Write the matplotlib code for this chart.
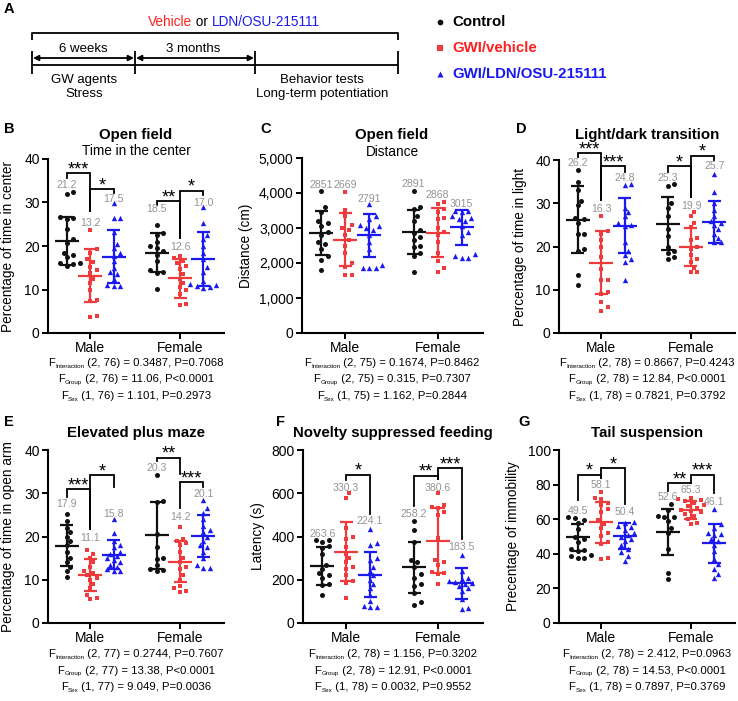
import numpy as np
import matplotlib
matplotlib.use('Agg')
import matplotlib.pyplot as plt
from matplotlib.transforms import offset_copy

plt.rcParams['font.family'] = ['Liberation Sans', 'DejaVu Sans']

# ------------------------------------------------------------------ data
sexes = ['Male', 'Female']
groups = ['Control', 'GWI/vehicle', 'GWI/LDN/OSU-215111']

# B: open field, % time in center  [Control, GWI/vehicle, GWI/LDN]
center_male = [
    [32.5, 32.0, 26.7, 26.5, 26.3, 23.8, 21.5, 20.8, 18.5, 18.0, 17.5, 16.0, 15.8, 15.5, 16.2],
    [23.7, 19.3, 18.5, 17.0, 16.3, 15.2, 14.5, 13.7, 12.5, 11.5, 9.8, 7.5, 7.3, 4.0, 3.7],
    [29.8, 26.5, 26.5, 23.2, 20.5, 19.5, 18.5, 17.8, 16.5, 15.0, 14.0, 13.5, 12.5, 11.0, 10.8, 10.8],
]
center_female = [
    [24.8, 23.0, 22.5, 21.0, 20.0, 19.5, 18.8, 18.0, 16.5, 14.5, 14.0, 13.8, 10.2],
    [17.8, 17.2, 16.5, 16.0, 15.5, 14.8, 13.5, 12.5, 11.5, 10.5, 9.8, 9.0, 6.7, 6.5],
    [29.0, 25.2, 22.5, 21.5, 20.0, 18.5, 17.0, 15.2, 14.0, 12.0, 11.2, 11.0, 10.8, 10.5, 10.3],
]
center_mean = [[21.2, 13.2, 17.5], [18.5, 12.6, 17.0]]
center_sd = [[5.5, 6.1, 6.1], [4.5, 4.5, 6.2]]

# C: open field, distance (cm)
distance_male = [
    [4050, 3600, 3450, 3200, 3150, 3050, 2900, 2800, 2600, 2550, 2400, 2200, 2100, 1800],
    [4020, 3520, 3350, 3100, 3000, 2950, 2800, 2650, 2500, 2300, 2000, 1900, 1650, 1650],
    [3680, 3350, 3250, 3100, 3050, 3000, 2950, 2800, 2600, 2400, 1950, 1850, 1850, 1850],
]
distance_female = [
    [4060, 3600, 3550, 3350, 3200, 2950, 2850, 2750, 2650, 2500, 2450, 2300, 2200, 1750],
    [3750, 3700, 3550, 3450, 3300, 3250, 3000, 2900, 2800, 2600, 2300, 2050, 1850, 1750],
    [3500, 3500, 3450, 3350, 3300, 3250, 3200, 3050, 2900, 2800, 2250, 2200, 2150, 2150],
]
distance_mean = [[2851, 2669, 2791], [2891, 2868, 3015]]
distance_sd = [[630, 760, 620], [620, 690, 510]]

# D: light/dark transition, % time in light
light_male = [
    [37.8, 34.8, 33.0, 30.5, 29.5, 26.5, 26.3, 25.5, 23.0, 23.0, 19.5, 19.0, 13.3, 11.2],
    [27.0, 23.5, 23.0, 21.5, 20.0, 17.5, 14.8, 12.3, 12.2, 9.5, 9.0, 7.2, 6.0, 5.2],
    [34.5, 34.3, 29.0, 28.0, 27.0, 25.5, 25.0, 24.8, 21.0, 19.0, 18.0, 17.0, 16.5, 12.2],
]
light_female = [
    [34.5, 34.0, 30.0, 29.0, 27.0, 24.0, 22.5, 20.0, 19.0, 18.5, 17.5, 17.2],
    [28.0, 27.0, 25.5, 24.5, 22.0, 21.5, 20.0, 19.5, 18.0, 17.0, 16.5, 15.0, 14.0, 14.0],
    [36.8, 32.5, 30.0, 28.5, 27.0, 26.0, 25.5, 25.0, 24.0, 23.0, 22.0, 21.0, 21.0],
]
light_mean = [[26.2, 16.3, 24.8], [25.3, 19.9, 25.7]]
light_sd = [[7.7, 7.2, 6.3], [6.2, 4.4, 4.8]]

# E: elevated plus maze, % time in open arm
openarm_male = [
    [25.3, 23.5, 22.0, 21.0, 20.0, 19.0, 18.0, 16.5, 15.0, 14.0, 13.0, 12.0, 10.7],
    [16.8, 16.0, 15.0, 14.0, 13.0, 12.0, 11.5, 11.0, 10.5, 10.0, 9.0, 8.0, 6.5, 5.8, 5.5],
    [24.0, 20.8, 19.0, 18.0, 17.5, 16.5, 16.0, 15.5, 15.0, 14.5, 14.0, 13.5, 13.0, 12.5, 12.0, 12.0],
]
openarm_female = [
    [34.2, 28.2, 28.0, 20.5, 17.5, 15.0, 14.8, 13.5, 12.5, 12.3, 12.0],
    [22.3, 19.5, 19.0, 18.5, 18.0, 16.5, 15.0, 14.0, 13.0, 12.5, 11.0, 10.0, 8.5, 8.0, 7.3, 7.2],
    [28.5, 26.5, 25.5, 24.0, 22.5, 21.5, 21.0, 20.0, 19.0, 18.0, 17.5, 16.5, 15.0, 13.5, 12.8, 12.8],
]
openarm_mean = [[17.9, 11.1, 15.8], [20.3, 14.2, 20.1]]
openarm_sd = [[4.8, 3.6, 3.3], [7.7, 4.8, 4.9]]

# F: novelty suppressed feeding, latency (s)
latency_male = [
    [385, 385, 375, 355, 345, 320, 270, 250, 230, 220, 210, 180, 175, 130],
    [600, 580, 440, 400, 390, 350, 320, 300, 280, 260, 250, 220, 195, 185, 115],
    [435, 370, 360, 300, 290, 260, 240, 220, 200, 180, 160, 130, 100, 80, 75, 75],
]
latency_female = [
    [470, 430, 375, 290, 280, 260, 225, 210, 180, 170, 140, 95, 85],
    [600, 545, 535, 530, 515, 500, 395, 290, 280, 270, 235, 230, 225, 180],
    [315, 240, 210, 205, 195, 190, 185, 180, 170, 160, 150, 110, 70, 65],
]
latency_mean = [[263.6, 330.3, 224.1], [258.2, 380.6, 183.5]]
latency_sd = [[88, 135, 106], [118, 150, 71]]

# G: tail suspension, % immobility
immobility_male = [
    [61.5, 60.5, 59.5, 58.0, 54.5, 50.0, 48.5, 47.0, 43.0, 42.0, 41.5, 39.5, 38.5, 37.5, 37.5],
    [76.0, 72.0, 71.5, 69.5, 68.0, 66.0, 64.0, 59.5, 57.5, 55.0, 52.0, 50.5, 47.0, 45.5, 37.5, 37.0],
    [58.5, 58.0, 56.0, 55.5, 54.0, 52.0, 51.0, 50.0, 48.5, 47.5, 45.0, 43.0, 41.0, 39.0, 36.0],
]
immobility_female = [
    [68.5, 65.5, 62.0, 61.5, 61.0, 59.0, 55.0, 52.0, 42.5, 29.0, 25.5],
    [72.0, 71.5, 71.0, 70.5, 69.5, 68.0, 67.5, 66.5, 65.5, 65.0, 64.0, 63.0, 62.0, 60.0, 58.0, 57.0],
    [66.0, 57.0, 55.0, 52.0, 51.5, 51.0, 48.5, 47.5, 45.0, 41.5, 37.0, 34.0, 31.5, 28.5, 26.0],
]
immobility_mean = [[49.5, 58.1, 50.4], [52.6, 65.3, 46.1]]
immobility_sd = [[8.0, 12.0, 7.4], [13.5, 5.2, 11.4]]

# two-way ANOVA texts  (subscript, rest)
stats_B = [('Interaction', '(2, 76) = 0.3487, P=0.7068'), ('Group', '(2, 76) = 11.06, P<0.0001'), ('Sex', '(1, 76) = 1.101, P=0.2973')]
stats_C = [('Interaction', '(2, 75) = 0.1674, P=0.8462'), ('Group', '(2, 75) = 0.315, P=0.7307'), ('Sex', '(1, 75) = 1.162, P=0.2844')]
stats_D = [('Interaction', '(2, 78) = 0.8667, P=0.4243'), ('Group', '(2, 78) = 12.84, P<0.0001'), ('Sex', '(1, 78) = 0.7821, P=0.3792')]
stats_E = [('Interaction', '(2, 77) = 0.2744, P=0.7607'), ('Group', '(2, 77) = 13.38, P<0.0001'), ('Sex', '(1, 77) = 9.049, P=0.0036')]
stats_F = [('Interaction', '(2, 78) = 1.156, P=0.3202'), ('Group', '(2, 78) = 12.91, P<0.0001'), ('Sex', '(1, 78) = 0.0032, P=0.9552')]
stats_G = [('Interaction', '(2, 78) = 2.412, P=0.0963'), ('Group', '(2, 78) = 14.53, P<0.0001'), ('Sex', '(1, 78) = 0.7897, P=0.3769')]

# ------------------------------------------------------------------ figure
W, H = 738, 701
fig = plt.figure(figsize=(W / 100, H / 100), dpi=100)
COLORS = ['#111111', '#ef3b3b', '#1a1af0']
MARKERS = ['o', 's', '^']
MSIZE = [13, 11, 15]
OFF = [-0.26, 0.0, 0.26]
XLIM = (0.53, 2.49)
GRAY = '#939393'
LABEL_FS = 7.6


def px_axes(l, t, r, b):
    return fig.add_axes([l / W, 1 - b / H, (r - l) / W, (b - t) / H])


def swarm(vals, ppu_y, ppu_x, d=5.4):
    vals = np.asarray(vals, float)
    order = np.argsort(vals)
    placed = []
    offs = np.zeros(len(vals))
    for i in order:
        y = vals[i] * ppu_y
        x = 0.0
        for k in [0, 1, -1, 2, -2, 3, -3, 4, -4, 5, -5, 6, -6]:
            x = k * d * 0.6
            if all((x - a) ** 2 + (y - b) ** 2 >= d * d for a, b in placed):
                break
        placed.append((x, y))
        offs[i] = x / ppu_x
    return offs


panels = [
    dict(rect=(48, 159, 224, 333), ylim=(0, 40), yticks=[0, 10, 20, 30, 40],
         points=[center_male, center_female], mean=center_mean, sd=center_sd, fmt='{:.1f}',
         labels=[[34.0, 25.4, 30.8], [28.4, 19.8, 30.0]],
         brackets=[(0, 0, 1, 36.7, 35.7, 28.0, '***'), (0, 1, 2, 33.0, 28.0, 32.1, '*'),
                   (1, 0, 1, 30.3, 29.4, 21.9, '**'), (1, 1, 2, 32.7, 21.9, 31.7, '*')],
         ylabel='Percentage of time in center', ylx=-0.19),
    dict(rect=(302, 158, 483, 333), ylim=(0, 5000), yticks=[0, 1000, 2000, 3000, 4000, 5000],
         points=[distance_male, distance_female], mean=distance_mean, sd=distance_sd, fmt='{:.0f}',
         labels=[[4216, 4216, 3834], [4254, 3948, 3681]], brackets=[],
         ylabel='Distance (cm)', ylx=-0.27, comma=True),
    dict(rect=(559, 160, 735, 333), ylim=(0, 40), yticks=[0, 10, 20, 30, 40],
         points=[light_male, light_female], mean=light_mean, sd=light_sd, fmt='{:.1f}',
         labels=[[39.2, 28.6, 35.9], [35.9, 29.4, 38.6]],
         brackets=[(0, 0, 1, 41.6, 40.8, 30.7, '***'), (0, 1, 2, 38.5, 30.7, 37.3, '***'),
                   (1, 0, 1, 38.5, 37.3, 31.5, '*'), (1, 1, 2, 41.0, 31.5, 40.0, '*')],
         ylabel='Percentage of time in light', ylx=-0.18),
    dict(rect=(48, 450, 224, 623), ylim=(0, 40), yticks=[0, 10, 20, 30, 40],
         points=[openarm_male, openarm_female], mean=openarm_mean, sd=openarm_sd, fmt='{:.1f}',
         labels=[[27.4, 19.6, 25.3], [35.8, 24.4, 29.9]],
         brackets=[(0, 0, 1, 30.9, 29.2, 21.8, '***'), (0, 1, 2, 34.2, 21.8, 31.5, '*'),
                   (1, 0, 1, 38.2, 37.5, 34.4, '**'), (1, 1, 2, 32.6, 26.6, 31.4, '***')],
         ylabel='Percentage of time in open arm', ylx=-0.19),
    dict(rect=(303, 450, 483, 623), ylim=(0, 800), yticks=[0, 200, 400, 600, 800],
         points=[latency_male, latency_female], mean=latency_mean, sd=latency_sd, fmt='{:.1f}',
         labels=[[412, 626, 471], [505, 626, 351]],
         brackets=[(0, 1, 2, 686, 660, 505, '*'), (1, 0, 1, 681, 543, 666, '**'),
                   (1, 1, 2, 715, 666, 389, '***')],
         ylabel='Latency (s)', ylx=-0.21),
    dict(rect=(559, 450, 735, 623), ylim=(0, 100), yticks=[0, 20, 40, 60, 80, 100],
         points=[immobility_male, immobility_female], mean=immobility_mean, sd=immobility_sd, fmt='{:.1f}',
         labels=[[65.0, 80.0, 64.0], [72.8, 76.7, 69.8]],
         brackets=[(0, 0, 1, 85.7, 71.3, 84.0, '*'), (0, 1, 2, 89.5, 84.0, 68.5, '*'),
                   (1, 0, 1, 80.9, 76.5, 80.9, '**'), (1, 1, 2, 85.7, 80.9, 75.1, '***')],
         ylabel='Precentage of immobility', ylx=-0.22),
]


def draw_panel(p):
    l, t, r, b = p['rect']
    ax = px_axes(l, t, r, b)
    ylo, yhi = p['ylim']
    ppu_y = (b - t) / (yhi - ylo)
    ppu_x = (r - l) / (XLIM[1] - XLIM[0])
    for si in range(2):
        for gi in range(3):
            x0 = si + 1 + OFF[gi]
            vals = np.asarray(p['points'][si][gi], float)
            offs = swarm(vals, ppu_y, ppu_x)
            ax.scatter(x0 + offs, vals, s=MSIZE[gi], marker=MARKERS[gi], color=COLORS[gi],
                       linewidths=0, zorder=3, clip_on=False)
            m = p['mean'][si][gi]
            s = p['sd'][si][gi]
            cap = 6.5 / ppu_x
            half = 12.0 / ppu_x
            kw = dict(color=COLORS[gi], lw=1.6, zorder=4, solid_capstyle='butt')
            ax.plot([x0, x0], [m - s, m + s], **kw)
            ax.plot([x0 - cap, x0 + cap], [m + s, m + s], **kw)
            ax.plot([x0 - cap, x0 + cap], [m - s, m - s], **kw)
            ax.plot([x0 - half, x0 + half], [m, m], **kw)
            ax.text(x0, p['labels'][si][gi], p['fmt'].format(m), color=GRAY, fontsize=LABEL_FS,
                    ha='center', va='center', zorder=6)
    star_tr = offset_copy(ax.transData, fig=fig, y=2.5, units='points')
    for (si, g1, g2, top, lend, rend, stars) in p['brackets']:
        xa = si + 1 + OFF[g1]
        xb = si + 1 + OFF[g2]
        ax.plot([xa, xa, xb, xb], [lend, top, top, rend], color='black', lw=1.3,
                clip_on=False, zorder=5, solid_joinstyle='miter')
        ax.text((xa + xb) / 2, top, stars, transform=star_tr, ha='center', va='center',
                fontsize=13, zorder=6)
    ax.set_xlim(*XLIM)
    ax.set_ylim(*p['ylim'])
    ax.set_xticks([1, 2])
    ax.set_xticklabels(sexes)
    ax.set_yticks(p['yticks'])
    if p.get('comma'):
        ax.set_yticklabels(['{:,}'.format(v) for v in p['yticks']])
    for sp in ['top', 'right']:
        ax.spines[sp].set_visible(False)
    for sp in ['left', 'bottom']:
        ax.spines[sp].set_linewidth(1.5)
    ax.tick_params(axis='both', width=1.4, length=4, labelsize=10, pad=2, color='black')
    ax.set_ylabel(p['ylabel'], fontsize=9.8)
    ax.yaxis.set_label_coords(p['ylx'], 0.5)
    return ax


for p in panels:
    draw_panel(p)

# ------------------------------------------------------------------ overlay (pixel coords)
ov = fig.add_axes([0, 0, 1, 1])
ov.set_xlim(0, W)
ov.set_ylim(H, 0)
ov.axis('off')

# panel letters
for letter, x, y in [('A', 4, 9), ('B', 4, 129), ('C', 260, 129), ('D', 516, 129),
                     ('E', 4, 422), ('F', 276, 422), ('G', 518, 422)]:
    ov.text(x, y, letter, fontsize=10.5, fontweight='bold', ha='left', va='center')

# titles
for txt, cx, y in [('Open field', 136, 135), ('Open field', 392, 135), ('Light/dark transition', 647, 135),
                   ('Elevated plus maze', 136, 433), ('Novelty suppressed feeding', 393, 433),
                   ('Tail suspension', 647, 433)]:
    ov.text(cx, y, txt, fontsize=10.8, fontweight='bold', ha='center', va='center')
for txt, cx, y in [('Time in the center', 136, 151), ('Distance', 392, 152)]:
    ov.text(cx, y, txt, fontsize=9.8, ha='center', va='center')

# ANOVA texts
renderer = fig.canvas.get_renderer()


def stat_line(cx, cy, sub, rest, fs=8.2):
    t1 = ov.text(0, cy, 'F', fontsize=fs, ha='left', va='center')
    t2 = ov.text(0, cy + 3.2, sub, fontsize=fs * 0.55, ha='left', va='center')
    t3 = ov.text(0, cy, ' ' + rest, fontsize=fs, ha='left', va='center')
    w1 = t1.get_window_extent(renderer).width
    w2 = t2.get_window_extent(renderer).width
    w3 = t3.get_window_extent(renderer).width
    x = cx - (w1 + w2 + w3) / 2
    t1.set_x(x)
    t2.set_x(x + w1)
    t3.set_x(x + w1 + w2)


for stats, cx, y0 in [(stats_B, 136, 363), (stats_C, 392, 363), (stats_D, 647, 363),
                      (stats_E, 136, 654), (stats_F, 393, 654), (stats_G, 647, 654)]:
    for k, (sub, rest) in enumerate(stats):
        stat_line(cx, y0 + 16.5 * k, sub, rest)

# schematic (panel A)
lk = dict(color='black', lw=1.3, solid_capstyle='butt')
ov.plot([32, 32, 398, 398], [40, 33, 33, 40], **lk)
ov.plot([32, 398], [65, 65], **lk)
for x in [32, 135, 255, 398]:
    ov.plot([x, x], [51, 74], **lk)
for x1, x2 in [(32, 135), (135, 255)]:
    ov.annotate('', xy=(x1 + 1, 58), xytext=(x2 - 1, 58),
                arrowprops=dict(arrowstyle='<|-|>', color='black', lw=1.3,
                                mutation_scale=8, shrinkA=0, shrinkB=0))
ov.text(83, 49, '6 weeks', fontsize=9.5, ha='center', va='center')
ov.text(193, 49, '3 months', fontsize=9.5, ha='center', va='center')
ov.text(84, 80, 'GW agents', fontsize=9.5, ha='center', va='center')
ov.text(84, 94, 'Stress', fontsize=9.5, ha='center', va='center')
ov.text(322, 80, 'Behavior tests', fontsize=9.5, ha='center', va='center')
ov.text(322, 94, 'Long-term potentiation', fontsize=9.5, ha='center', va='center')

# "Vehicle or LDN/OSU-215111"
parts = [('Vehicle', '#ff1f1f'), (' or ', 'black'), ('LDN/OSU-215111', '#1a1af0')]
ts = [ov.text(0, 22, s, fontsize=9.8, color=c, ha='left', va='center') for s, c in parts]
ws = [t.get_window_extent(renderer).width for t in ts]
x = 234 - sum(ws) / 2
for t, w in zip(ts, ws):
    t.set_x(x)
    x += w

# legend
for gi, (name, y) in enumerate(zip(groups, [22, 48, 74])):
    ov.scatter([440], [y], s=MSIZE[gi] + 4, marker=MARKERS[gi], color=COLORS[gi], linewidths=0)
    ov.text(452, y, name, fontsize=10.8, fontweight='bold', ha='left', va='center',
            color=['black', '#ff1f1f', '#1a1af0'][gi])

fig.savefig('out.png', dpi=100)
